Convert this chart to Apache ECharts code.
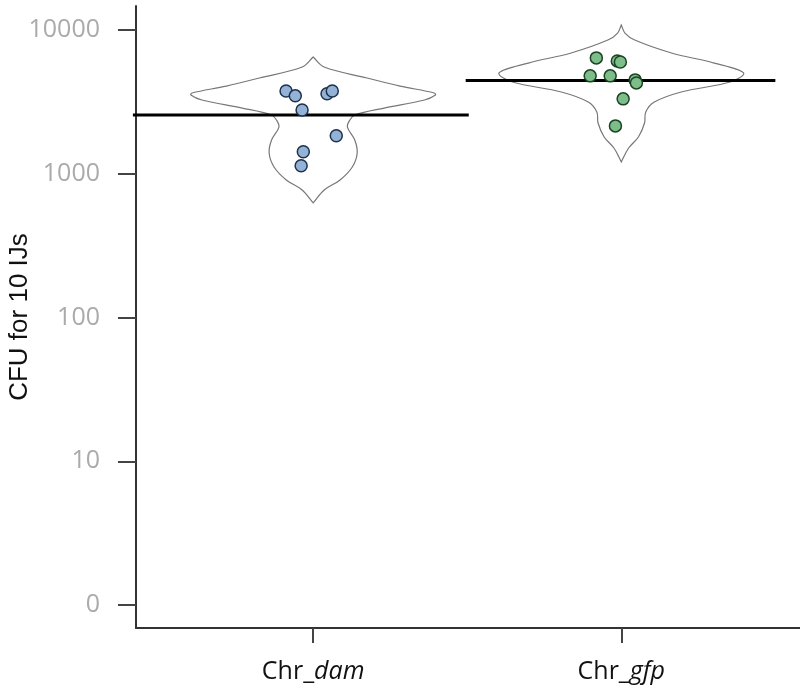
<!DOCTYPE html>
<html>
<head>
<meta charset="utf-8">
<script src="https://cdn.jsdelivr.net/npm/echarts@6/dist/echarts.min.js"></script>
<style>
  html, body { margin: 0; padding: 0; background: #fff; }
  #main { width: 800px; height: 698px; }
</style>
</head>
<body>
<div id="main"></div>
<script>
// groups sit at x = 1 and x = 2, values are log10(CFU)
var groups = ['dam', 'gfp'];
var groupPos = [1, 2];
var tickVals = [0, 1, 2, 3, 4];
var tickLabels = ['0', '10', '100', '1000', '10000'];

// points: [x (with jitter), log10 CFU]
var damPoints = [
    [0.912, 3.576], [0.942, 3.542], [1.045, 3.556], [1.062, 3.576],
    [0.964, 3.444], [1.075, 3.264], [0.968, 3.153], [0.961, 3.056]
];
var gfpPoints = [
    [1.919, 3.806], [1.987, 3.785], [1.997, 3.778], [1.899, 3.681],
    [1.964, 3.681], [2.045, 3.653], [2.049, 3.632], [2.006, 3.521], [1.981, 3.333]
];

// mean line per group (log10)
var groupMean = [3.409, 3.648];

// violin profiles: log10 value and relative half-width (0..1)
var damViolinY = [3.812, 3.743, 3.666, 3.610, 3.562, 3.548, 3.513, 3.457, 3.409, 3.374, 3.325, 3.235, 3.144, 3.047, 2.957, 2.887, 2.797];
var damViolinW = [0, 0.09, 0.44, 0.71, 0.99, 1.0, 0.91, 0.58, 0.34, 0.30, 0.28, 0.34, 0.36, 0.32, 0.22, 0.09, 0];
var gfpViolinY = [4.035, 3.979, 3.930, 3.840, 3.770, 3.701, 3.638, 3.569, 3.499, 3.430, 3.353, 3.256, 3.179, 3.082];
var gfpViolinW = [0, 0.03, 0.11, 0.41, 0.76, 1.0, 0.89, 0.49, 0.27, 0.20, 0.19, 0.14, 0.06, 0];

var violinMaxHalf = 0.397;
var lineLeft = [0.585, 0.505];
var lineRight = [0.505, 0.5];

var violins = [
    { y: damViolinY, w: damViolinW },
    { y: gfpViolinY, w: gfpViolinW }
];

var myChart = echarts.init(document.getElementById('main'));

var option = {
    animation: false,
    grid: { left: 136, right: 0, top: 6, bottom: 70, outerBoundsMode: 'none', containLabel: false },
    xAxis: {
        type: 'value',
        min: 0.425,
        max: 2.58,
        splitLine: { show: false },
        axisLine: { show: true, onZero: false, lineStyle: { color: '#333', width: 2 } },
        axisTick: { show: true, length: 15, customValues: groupPos, lineStyle: { color: '#444', width: 2 } },
        axisLabel: {
            customValues: groupPos,
            margin: 31,
            formatter: function (v) {
                return '{n|Chr_}{i|' + groups[Math.round(v) - 1] + '}';
            },
            rich: {
                n: { fontFamily: 'Open Sans', fontSize: 25, color: '#111' },
                i: { fontFamily: 'Open Sans', fontSize: 25, fontStyle: 'italic', color: '#111' }
            }
        }
    },
    yAxis: {
        type: 'value',
        min: -0.16,
        max: 4.167,
        name: 'CFU for 10 IJs',
        nameLocation: 'middle',
        nameGap: 103,
        nameMoveOverlap: false,
        nameTextStyle: { fontFamily: 'Liberation Sans', fontSize: 26, color: '#111' },
        splitLine: { show: false },
        axisLine: { show: true, onZero: false, lineStyle: { color: '#333', width: 2 } },
        axisTick: { show: true, length: 18, customValues: tickVals, lineStyle: { color: '#444', width: 2 } },
        axisLabel: {
            customValues: tickVals,
            margin: 36,
            fontFamily: 'Open Sans',
            fontSize: 25,
            color: '#aaa',
            formatter: function (v) {
                return tickLabels[tickVals.indexOf(Math.round(v))];
            }
        }
    },
    series: [
        {
            type: 'custom',
            name: 'violin',
            z: 1,
            data: groupPos.map(function (p, i) { return [p, i]; }),
            renderItem: function (params, api) {
                var pos = api.value(0);
                var v = violins[api.value(1)];
                var left = [], right = [];
                for (var k = 0; k < v.y.length; k++) {
                    var hw = v.w[k] * violinMaxHalf;
                    left.push(api.coord([pos - hw, v.y[k]]));
                    right.unshift(api.coord([pos + hw, v.y[k]]));
                }
                return {
                    type: 'polygon',
                    shape: { points: left.concat(right), smooth: 0.35 },
                    style: { fill: 'rgba(255,255,255,0)', stroke: '#777', lineWidth: 1.2 }
                };
            }
        },
        {
            type: 'custom',
            name: 'mean',
            z: 2,
            data: groupPos.map(function (p, i) { return [p, groupMean[i], i]; }),
            renderItem: function (params, api) {
                var pos = api.value(0), m = api.value(1), i = api.value(2);
                var a = api.coord([pos - lineLeft[i], m]);
                var b = api.coord([pos + lineRight[i], m]);
                return {
                    type: 'line',
                    shape: { x1: a[0], y1: a[1], x2: b[0], y2: b[1] },
                    style: { stroke: '#000', lineWidth: 3 }
                };
            }
        },
        {
            type: 'scatter',
            name: 'Chr_dam',
            z: 3,
            symbolSize: 12,
            data: damPoints,
            itemStyle: { color: '#93b2d6', borderColor: '#1c324f', borderWidth: 1.5, opacity: 1 }
        },
        {
            type: 'scatter',
            name: 'Chr_gfp',
            z: 3,
            symbolSize: 12,
            data: gfpPoints,
            itemStyle: { color: '#7dbd89', borderColor: '#1b4424', borderWidth: 1.5, opacity: 1 }
        }
    ]
};
myChart.setOption(option);
</script>
</body>
</html>
